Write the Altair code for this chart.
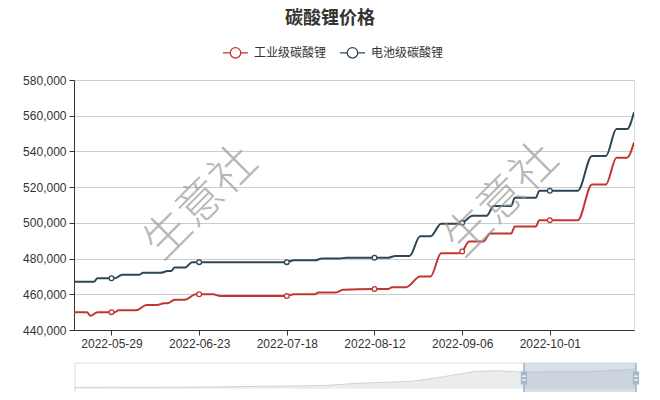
import altair as alt
import pandas as pd

# ---------------- data ----------------
title_text = "碳酸锂价格"
series_names = ["工业级碳酸锂", "电池级碳酸锂"]
series_colors = ["#c23531", "#2f4554"]

ind_dates = ["2022-05-18", "2022-05-22", "2022-05-23", "2022-05-25", "2022-05-29",
             "2022-05-30", "2022-05-31", "2022-06-05", "2022-06-08", "2022-06-11",
             "2022-06-13", "2022-06-14", "2022-06-16", "2022-06-19", "2022-06-22",
             "2022-06-23", "2022-06-27", "2022-06-29", "2022-07-18", "2022-07-20",
             "2022-07-26", "2022-07-27", "2022-08-01", "2022-08-03", "2022-08-12",
             "2022-08-16", "2022-08-17", "2022-08-21", "2022-08-25", "2022-08-28",
             "2022-08-31", "2022-09-05", "2022-09-06", "2022-09-08", "2022-09-12",
             "2022-09-14", "2022-09-20", "2022-09-21", "2022-09-27", "2022-09-28",
             "2022-10-01", "2022-10-09", "2022-10-13", "2022-10-17", "2022-10-20",
             "2022-10-23", "2022-10-25"]
ind_values = [450000, 450000, 448000, 450000, 450000,
              450000, 451000, 451000, 454000, 454000,
              455000, 455000, 457000, 457000, 460000,
              460000, 460000, 459000, 459000, 460000,
              460000, 461000, 461000, 462500, 463000,
              463000, 464000, 464000, 470000, 470000,
              483000, 483000, 484000, 489500, 489500,
              494000, 494000, 498000, 498000, 501500,
              501500, 501500, 521500, 521500, 536500,
              536500, 545000]

bat_dates = ["2022-05-18", "2022-05-24", "2022-05-25", "2022-05-29", "2022-05-30",
             "2022-06-01", "2022-06-06", "2022-06-07", "2022-06-12", "2022-06-14",
             "2022-06-15", "2022-06-16", "2022-06-19", "2022-06-21", "2022-06-23",
             "2022-07-18", "2022-07-20", "2022-07-26", "2022-07-28", "2022-08-02",
             "2022-08-04", "2022-08-12", "2022-08-16", "2022-08-18", "2022-08-22",
             "2022-08-25", "2022-08-28", "2022-08-31", "2022-09-05", "2022-09-06",
             "2022-09-09", "2022-09-13", "2022-09-15", "2022-09-20", "2022-09-21",
             "2022-09-27", "2022-09-28", "2022-10-01", "2022-10-09", "2022-10-13",
             "2022-10-17", "2022-10-20", "2022-10-23", "2022-10-25"]
bat_values = [467000, 467000, 469000, 469000, 469000,
              471000, 471000, 472000, 472000, 473000,
              473000, 475000, 475000, 478000, 478000,
              478000, 479000, 479000, 480000, 480000,
              480500, 480500, 480500, 481500, 481500,
              492500, 492500, 499500, 499500, 500000,
              504000, 504000, 509500, 509500, 514000,
              514000, 518000, 518000, 518000, 537500,
              537500, 552500, 552500, 562000]

marker_dates = ["2022-05-29", "2022-06-23", "2022-07-18", "2022-08-12", "2022-09-06", "2022-10-01"]
x_tick_dates = ["2022-05-29", "2022-06-23", "2022-07-18", "2022-08-12", "2022-09-06", "2022-10-01"]
y_ticks = [440000, 460000, 480000, 500000, 520000, 540000, 560000, 580000]

# longer history shown as the data shadow of the zoom slider
shadow_dates = ["2020-08-15", "2020-12-20", "2021-04-19", "2021-08-05", "2021-09-27",
                "2021-12-09", "2022-01-13", "2022-03-08", "2022-04-09"]
shadow_values = [40000, 42000, 64000, 92000, 155000, 205000, 298000, 466000, 493000]
slider_range_dates = ["2020-08-15", "2022-10-25"]
window_dates = ["2022-05-18", "2022-10-25"]

watermark_text = "生意社"

# ---------------- tables ----------------
lines_df = pd.concat([
    pd.DataFrame({"date": ind_dates, "price": ind_values, "series": series_names[0]}),
    pd.DataFrame({"date": bat_dates, "price": bat_values, "series": series_names[1]}),
], ignore_index=True)
markers_df = lines_df[lines_df["date"].isin(marker_dates)]

shadow_df = pd.DataFrame({"date": shadow_dates + ind_dates, "price": shadow_values + ind_values})
bounds_df = pd.DataFrame({"start": [slider_range_dates[0]], "end": [slider_range_dates[1]]})
window_df = pd.DataFrame({"start": [window_dates[0]], "end": [window_dates[1]]})
handles_df = pd.DataFrame({"date": window_dates})


def ms(s):
    return int(pd.Timestamp(s, tz="UTC").value // 10**6)


FONT = "Liberation Sans, Noto Sans CJK SC, sans-serif"

x_scale = alt.Scale(type="utc", domain=[ms("2022-05-18T07:30:00"), ms("2022-10-25T00:00:00")], nice=False)
y_scale = alt.Scale(domain=[440000, 580000], nice=False, zero=False)
color_scale = alt.Scale(domain=series_names, range=series_colors)

legend_symbol = ("M-1,0L-0.42,0M0.42,0L1,0M0.42,0A0.42,0.42,0,1,1,-0.42,0"
                 "A0.42,0.42,0,1,1,0.42,0Z")

x_axis = alt.Axis(values=[ms(d) for d in x_tick_dates], format="%Y-%m-%d",
                  grid=False, tickSize=5, tickColor="#333", domainColor="#333",
                  labelColor="#333", labelFontSize=12, labelPadding=3,
                  labelFont=FONT, labelFlush=False, labelOverlap=False)
y_axis = alt.Axis(values=y_ticks, tickCount=len(y_ticks), format=",d", grid=True,
                  gridColor="#ccc", tickSize=5, tickColor="#333", domainColor="#333",
                  labelColor="#333", labelFontSize=12, labelPadding=3,
                  labelFont=FONT, labelOverlap=False)

x_enc = alt.X("date:T", scale=x_scale, title=None, axis=x_axis)
y_enc = alt.Y("price:Q", scale=y_scale, title=None, axis=y_axis)

lines = alt.Chart(lines_df).mark_line(interpolate="monotone", strokeWidth=2, clip=True).encode(
    x=x_enc, y=y_enc,
    color=alt.Color("series:N", scale=color_scale, sort=series_names,
                    legend=alt.Legend(orient="none", legendX=148, legendY=-41,
                                      direction="horizontal", title=None,
                                      symbolType=legend_symbol, symbolSize=625,
                                      symbolStrokeWidth=1.3, symbolFillColor="white",
                                      labelFontSize=12, labelColor="#333", labelFont=FONT,
                                      labelOffset=5, columnPadding=10, padding=0)),
)

markers = alt.Chart(markers_df).mark_point(filled=True, fill="white", size=22,
                                           strokeWidth=1.3, opacity=1).encode(
    x=x_enc, y=y_enc,
    stroke=alt.Stroke("series:N", scale=color_scale, legend=None),
)

wm_df = pd.DataFrame({"t": [watermark_text]})
wm1 = alt.Chart(wm_df).mark_text(angle=315, fontSize=46, font="Noto Sans CJK SC",
                                  fontWeight=300, color="#999", opacity=0.7,
                                  align="center", baseline="middle").encode(
    text="t:N", x=alt.value(127), y=alt.value(123))
wm2 = alt.Chart(wm_df).mark_text(angle=315, fontSize=46, font="Noto Sans CJK SC",
                                  fontWeight=300, color="#999", opacity=0.7,
                                  align="center", baseline="middle").encode(
    text="t:N", x=alt.value(428), y=alt.value(120))

main = alt.layer(lines, markers, wm1, wm2)

# ---------------- slider ----------------
all_vals = shadow_values + ind_values
lo, hi = min(all_vals), max(all_vals)
pad = (hi - lo) * 0.3
s_top, s_bot = 283, 313
sx = alt.Scale(type="utc", domain=[ms(slider_range_dates[0]), ms(slider_range_dates[1])],
               range=[1, 562], nice=False)
sy = alt.Scale(domain=[lo - pad, hi + pad], range=[s_bot, s_top], nice=False, zero=False)

border = alt.Chart(bounds_df).mark_rect(fill="white", stroke="#ddd", strokeWidth=1).encode(
    x=alt.X("start:T", scale=sx, axis=None), x2="end:T",
    y=alt.value(s_top), y2=alt.value(s_bot))
shadow = alt.Chart(shadow_df).mark_area(color="#2f4554", fillOpacity=0.1,
                                        line={"color": "#2f4554", "strokeWidth": 0.6,
                                              "strokeOpacity": 0.3}).encode(
    x=alt.X("date:T", scale=sx, axis=None),
    y=alt.Y("price:Q", scale=sy, axis=None),
    y2=alt.value(s_bot))
window = alt.Chart(window_df).mark_rect(color="#a7b7cc", opacity=0.45).encode(
    x=alt.X("start:T", scale=sx, axis=None), x2="end:T",
    y=alt.value(s_top), y2=alt.value(s_bot))
h_rule = alt.Chart(handles_df).mark_rule(color="#a7b7cc", strokeWidth=1.6).encode(
    x=alt.X("date:T", scale=sx, axis=None), y=alt.value(s_top), y2=alt.value(s_bot))
h_body = alt.Chart(handles_df).mark_point(shape="M-0.24,-0.5H0.24V0.5H-0.24Z", filled=True,
                                          color="#a7b7cc", size=676, opacity=1).encode(
    x=alt.X("date:T", scale=sx, axis=None), y=alt.value((s_top + s_bot) / 2))
h_bars = alt.Chart(handles_df).mark_point(
    shape="M-0.14,-0.2H0.14V-0.1H-0.14Z M-0.14,0.1H0.14V0.2H-0.14Z", filled=True,
    color="white", size=676, opacity=1).encode(
    x=alt.X("date:T", scale=sx, axis=None), y=alt.value((s_top + s_bot) / 2))

slider = alt.layer(border, shadow, window, h_rule, h_body, h_bars)

chart = alt.layer(main, slider).resolve_scale(
    x="independent", y="independent"
).properties(
    width=560, height=250,
    padding={"left": 66, "top": 72, "right": 18, "bottom": 62},
    autosize=alt.AutoSizeParams(type="none"),
    title=alt.TitleParams(title_text, fontSize=18, fontWeight="bold", color="#333",
                          anchor="middle", dx=-24, offset=11, font=FONT),
).configure_view(stroke=None).configure(font=FONT)

chart.save("out.html", embed_options={"renderer": "svg", "actions": False})
